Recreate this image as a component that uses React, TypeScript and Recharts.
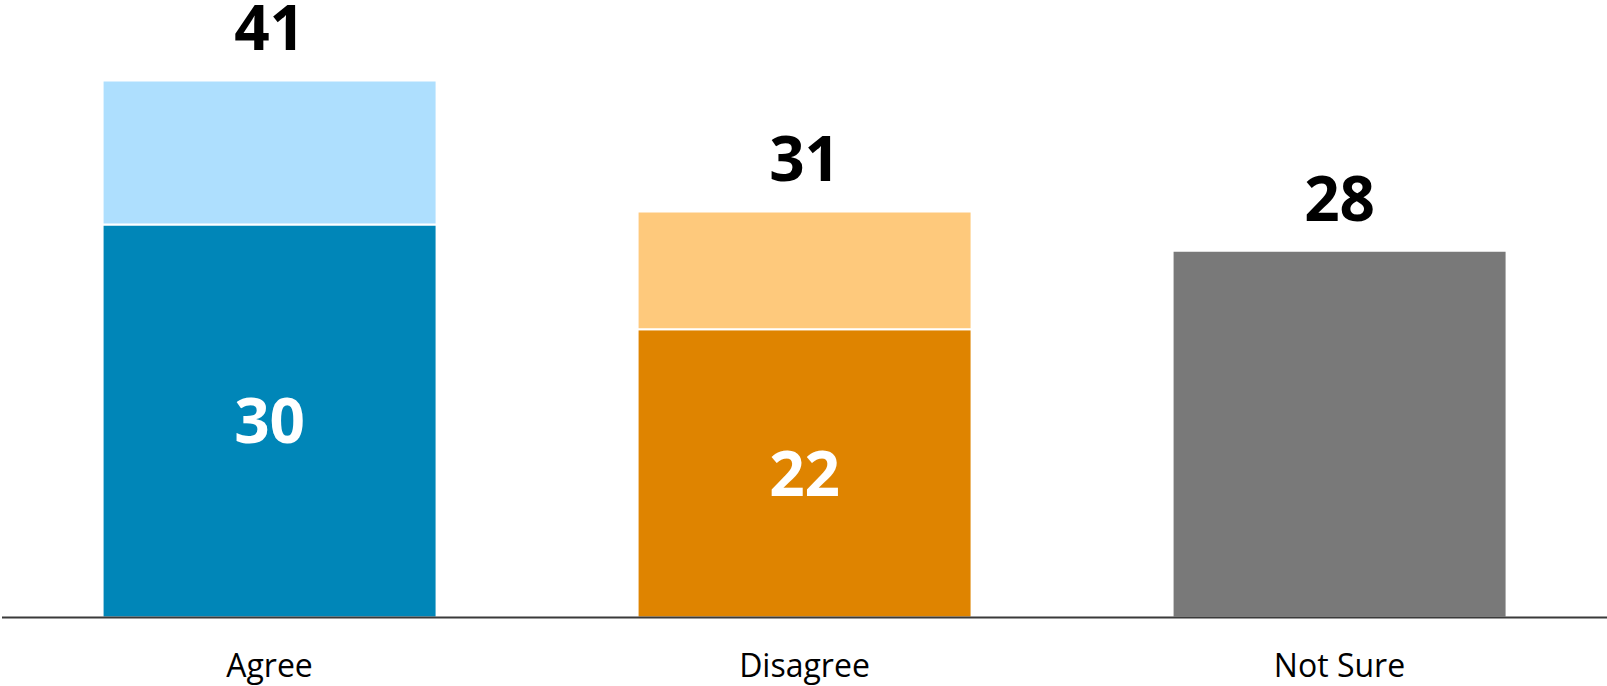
import { Bar, BarChart, Cell, LabelList, XAxis, YAxis } from "recharts";

const categories = ["Agree", "Disagree", "Not Sure"];
const baseValues = [30, 22, 28];
const totalValues = [41, 31, 28];
const showInside = [true, true, false];

const BASE_COLORS = ["#0086B8", "#DF8400", "#797979"];
const TOP_COLORS = ["#AEDFFE", "#FEC97C", "#797979"];

const FONT = "'Open Sans', 'Noto Sans', sans-serif";

const data = categories.map((name, i) => ({
  name,
  base: baseValues[i],
  top: totalValues[i] - baseValues[i],
  total: totalValues[i],
  inside: showInside[i] ? baseValues[i] : null,
}));

// total label sits above the full stack; derive its top from the base bar's scale
function TotalLabel(props: any) {
  const { x, y, width, height, index } = props;
  const perUnit = height / baseValues[index];
  const stackTop = y + height - totalValues[index] * perUnit;
  return (
    <text
      x={x + width / 2}
      y={stackTop - 30}
      textAnchor="middle"
      fontFamily={FONT}
      fontWeight={700}
      fontSize={62}
      fill="#000"
    >
      {totalValues[index]}
    </text>
  );
}

function InsideLabel(props: any) {
  const { x, y, width, height, value } = props;
  if (value == null) return null;
  return (
    <text
      x={x + width / 2}
      y={y + height / 2}
      dy="0.36em"
      textAnchor="middle"
      fontFamily={FONT}
      fontWeight={700}
      fontSize={62}
      fill="#fff"
    >
      {value}
    </text>
  );
}

export default function App() {
  return (
    <div style={{ position: "absolute", left: 0, top: 0, background: "#fff" }}>
      <BarChart
        width={1607}
        height={686}
        data={data}
        margin={{ top: 28, right: 0, bottom: 0, left: 2 }}
        barCategoryGap="18.8%"
      >
        <XAxis
          dataKey="name"
          height={68.5}
          tickLine={false}
          tickSize={0}
          tickMargin={37}
          axisLine={{ stroke: "#3a3a3a", strokeWidth: 2 }}
          tick={{ fontFamily: FONT, fontSize: 32, fill: "#000" }}
          interval={0}
        />
        <YAxis hide domain={[0, 45]} />
        <Bar
          dataKey="base"
          stackId="a"
          stroke="#fff"
          strokeWidth={2}
          isAnimationActive={false}
        >
          {data.map((_, i) => (
            <Cell key={i} fill={BASE_COLORS[i]} />
          ))}
          <LabelList dataKey="inside" content={InsideLabel} />
          <LabelList dataKey="total" content={TotalLabel} />
        </Bar>
        <Bar
          dataKey="top"
          stackId="a"
          stroke="#fff"
          strokeWidth={2}
          isAnimationActive={false}
        >
          {data.map((_, i) => (
            <Cell key={i} fill={TOP_COLORS[i]} />
          ))}
        </Bar>
      </BarChart>
    </div>
  );
}
